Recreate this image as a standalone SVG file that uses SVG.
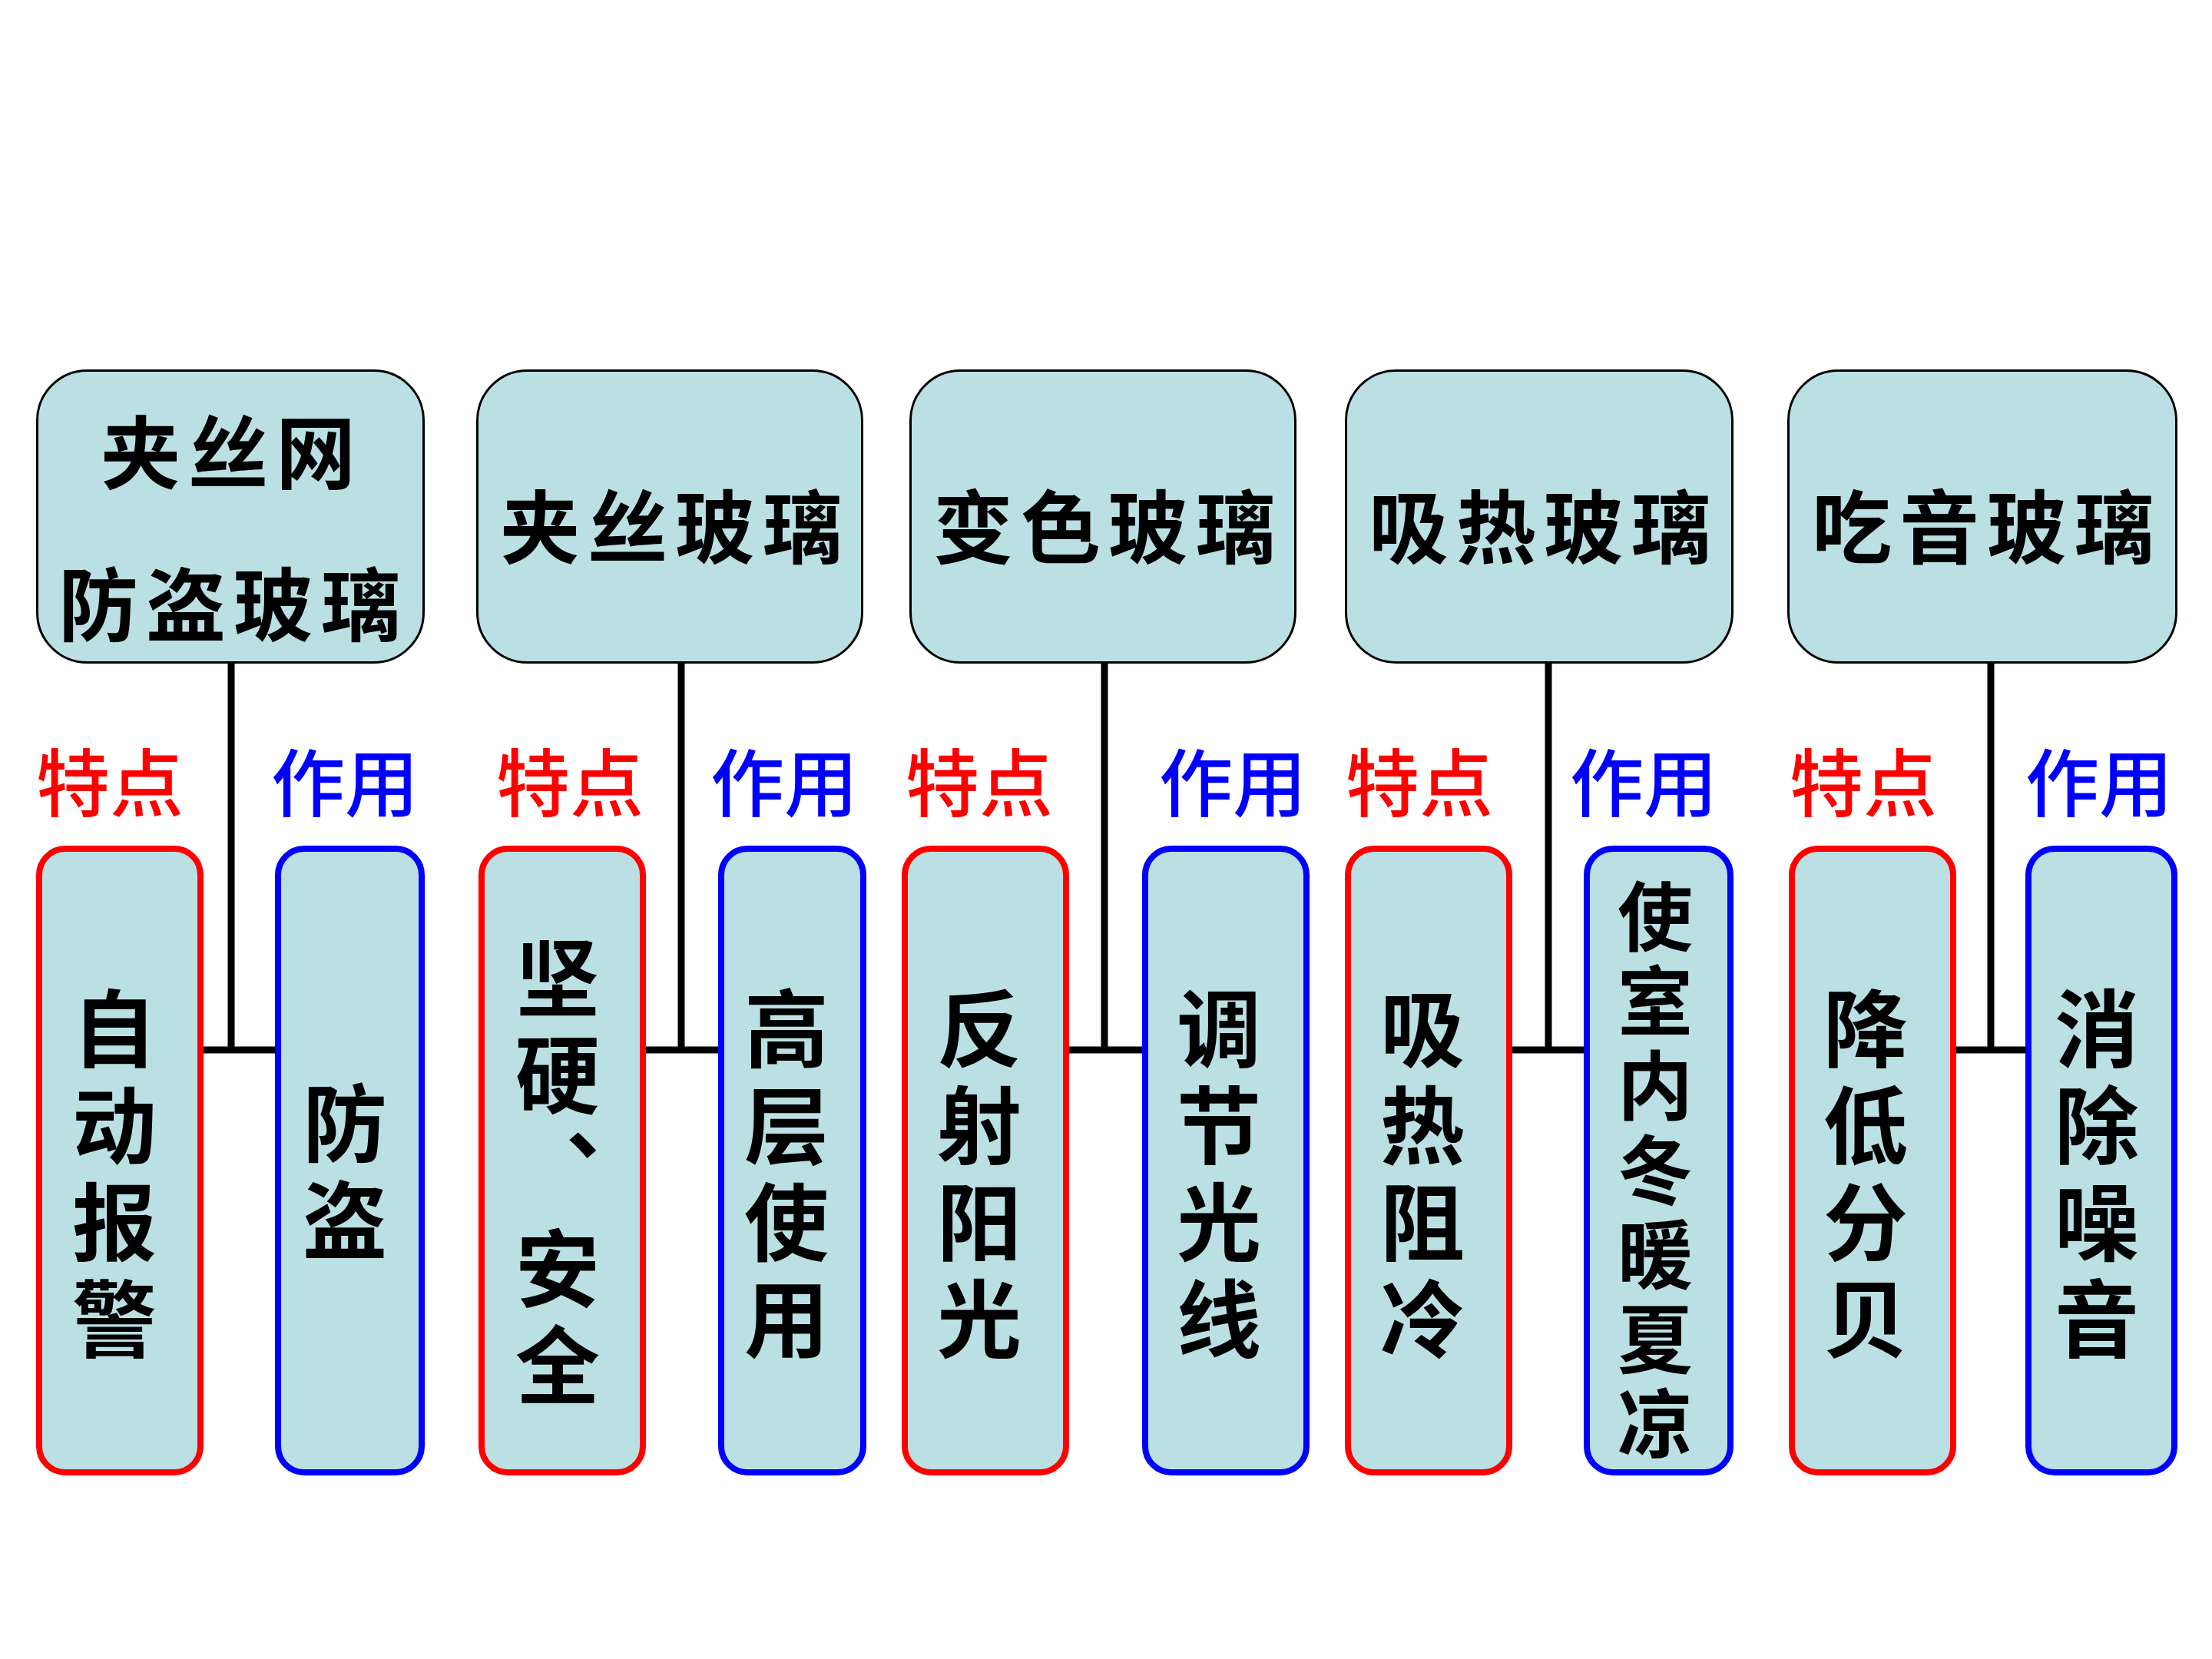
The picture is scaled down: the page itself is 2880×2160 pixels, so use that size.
<svg xmlns="http://www.w3.org/2000/svg" width="2880" height="2160" viewBox="0 0 2880 2160">
<style>
.top{fill:#BBE0E3;stroke:#000;stroke-width:3}
.red{fill:#BBE0E3;stroke:#FF0000;stroke-width:8}
.blue{fill:#BBE0E3;stroke:#0000FF;stroke-width:8}
.tt{font-family:"Noto Sans CJK SC","Noto Sans CJK TC",sans-serif;font-weight:bold;font-size:104px;fill:#000;text-anchor:middle;dominant-baseline:central;letter-spacing:10px}
.vt{font-family:"Noto Sans CJK SC","Noto Sans CJK TC",sans-serif;font-weight:bold;font-size:110px;fill:#000;text-anchor:middle;writing-mode:vertical-rl;text-orientation:upright;letter-spacing:16px}
.vs{font-size:98px;letter-spacing:12px}
.lr{font-family:"Noto Sans CJK SC","Noto Sans CJK TC",sans-serif;font-size:96px;fill:#FF0000;text-anchor:middle;dominant-baseline:central;font-weight:500}
.lb{font-family:"Noto Sans CJK SC","Noto Sans CJK TC",sans-serif;font-size:96px;fill:#0000FF;text-anchor:middle;dominant-baseline:central;font-weight:500}
.ln{stroke:#000;stroke-width:9;fill:none}
</style>
<rect width="2880" height="2160" fill="#FFFFFF"/>
<g id="connectors">
<path class="ln" d="M301 864V1367M265 1367H358"/>
<path class="ln" d="M887 864V1367M841 1367H935"/>
<path class="ln" d="M1438 864V1367M1392 1367H1487"/>
<path class="ln" d="M2016 864V1367M1969 1367H2062"/>
<path class="ln" d="M2592 864V1367M2547 1367H2637"/>
</g>
<g id="top1"><rect class="top" x="48.5" y="482.5" width="503" height="380" rx="65"/>
<text class="tt" x="302" y="583">夹丝网</text><text class="tt" x="304" y="781">防盗玻璃</text></g>
<g id="top2"><rect class="top" x="621.5" y="482.5" width="501" height="380" rx="65"/>
<text class="tt" x="879" y="680">夹丝玻璃</text></g>
<g id="top3"><rect class="top" x="1185.5" y="482.5" width="501" height="380" rx="65"/>
<text class="tt" x="1443" y="680">变色玻璃</text></g>
<g id="top4"><rect class="top" x="1752.5" y="482.5" width="503" height="380" rx="65"/>
<text class="tt" x="2010" y="680">吸热玻璃</text></g>
<g id="top5"><rect class="top" x="2328.5" y="482.5" width="505" height="380" rx="65"/>
<text class="tt" x="2587" y="680">吃音玻璃</text></g>
<g id="labels">
<text class="lr" x="143" y="1013">特点</text><text class="lb" x="449" y="1013">作用</text>
<text class="lr" x="742" y="1013">特点</text><text class="lb" x="1021" y="1013">作用</text>
<text class="lr" x="1275" y="1013">特点</text><text class="lb" x="1605" y="1013">作用</text>
<text class="lr" x="1848" y="1013">特点</text><text class="lb" x="2140" y="1013">作用</text>
<text class="lr" x="2426" y="1013">特点</text><text class="lb" x="2733" y="1013">作用</text>
</g>
<g id="b1r"><rect class="red" x="51" y="1105" width="210" height="812" rx="34"/><text class="vt" x="149" y="1536">自动报警</text></g>
<g id="b1b"><rect class="blue" x="362" y="1105" width="187" height="812" rx="34"/><text class="vt" x="449" y="1533">防盗</text></g>
<g id="b2r"><rect class="red" x="627" y="1105" width="210" height="812" rx="34"/><text class="vt" x="726" y="1533">坚硬、安全</text></g>
<g id="b2b"><rect class="blue" x="939" y="1105" width="185" height="812" rx="34"/><text class="vt" x="1024" y="1536">高层使用</text></g>
<g id="b3r"><rect class="red" x="1178" y="1105" width="210" height="812" rx="34"/><text class="vt" x="1275" y="1536">反射阳光</text></g>
<g id="b3b"><rect class="blue" x="1491" y="1105" width="210" height="812" rx="34"/><text class="vt" x="1587" y="1536">调节光线</text></g>
<g id="b4r"><rect class="red" x="1755" y="1105" width="210" height="812" rx="34"/><text class="vt" x="1852" y="1536">吸热阻冷</text></g>
<g id="b4b"><rect class="blue" x="2066" y="1105" width="187" height="812" rx="34"/><text class="vt vs" x="2155" y="1529">使室内冬暖夏凉</text></g>
<g id="b5r"><rect class="red" x="2333" y="1105" width="210" height="812" rx="34"/><text class="vt" x="2429" y="1536">降低分贝</text></g>
<g id="b5b"><rect class="blue" x="2641" y="1105" width="190" height="812" rx="34"/><text class="vt" x="2730" y="1536">消除噪音</text></g>
</svg>
